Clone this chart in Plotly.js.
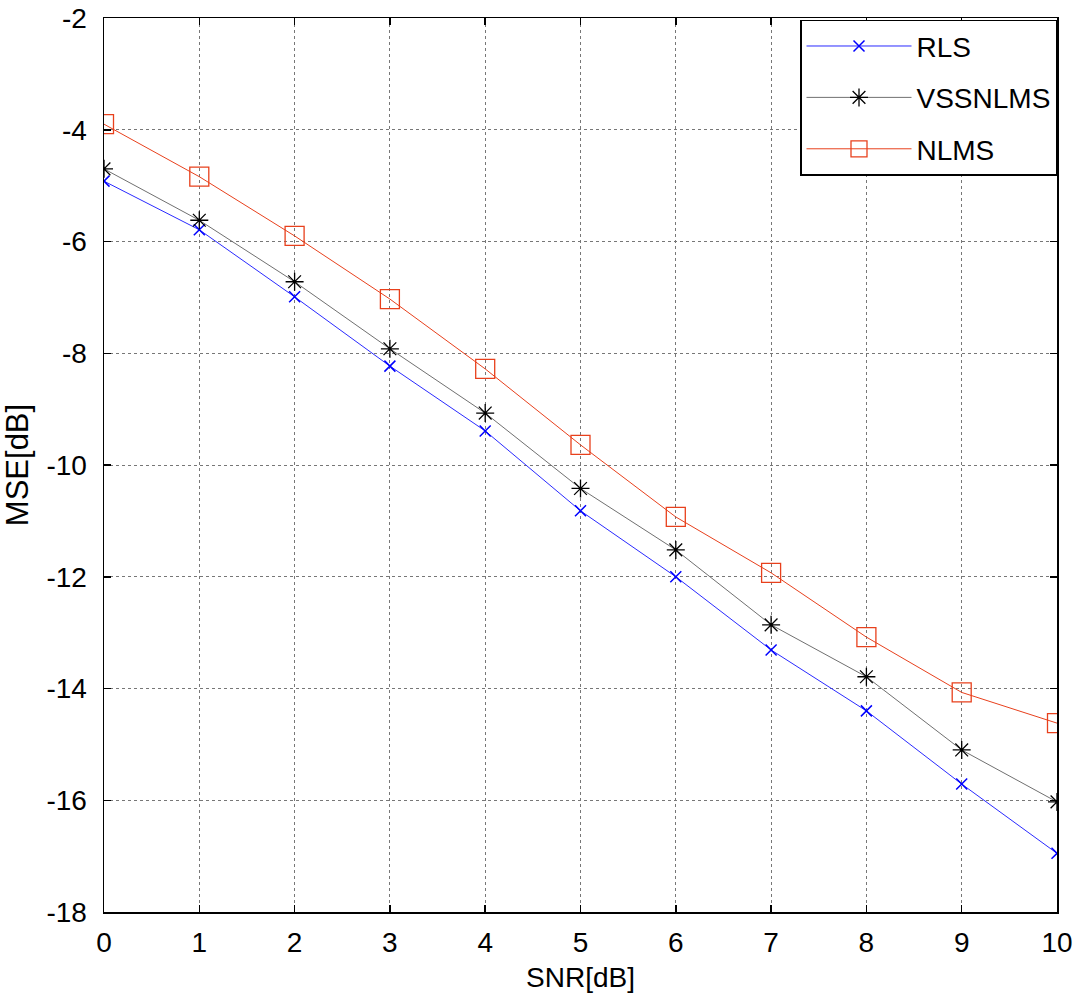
<!DOCTYPE html>
<html><head><meta charset="utf-8">
<script src="https://cdn.plot.ly/plotly-3.0.1.min.js"></script>
<style>html,body{margin:0;padding:0;background:#fff}#c{width:1078px;height:1006px}</style>
</head><body><div id="c"></div>
<script>
const snr = [0,1,2,3,4,5,6,7,8,9,10];
const rls = [-4.92,-5.79,-6.99,-8.23,-9.39,-10.82,-12.0,-13.31,-14.40,-15.71,-16.95];
const vssnlms = [-4.70,-5.62,-6.72,-7.92,-9.07,-10.42,-11.52,-12.86,-13.79,-15.10,-16.03];
const nlms = [-3.90,-4.84,-5.90,-7.03,-8.28,-9.64,-10.93,-11.93,-13.08,-14.07,-14.62];
const names = ['RLS','VSSNLMS','NLMS'];
const xTicks = [0,1,2,3,4,5,6,7,8,9,10];
const xTickText = ['0','1','2','3','4','5','6','7','8','9','10'];
const yTicks = [-18,-16,-14,-12,-10,-8,-6,-4,-2];
const yTickText = ['-18','-16','-14','-12','-10','-8','-6','-4','-2'];

const REG = 'Liberation Sans, Arial, sans-serif';

const traces = [
  {x: snr, y: rls, name: names[0], legendgroup: 'a', mode: 'lines+markers',
   line: {color: '#2a2aff', width: 1},
   marker: {symbol: 'x-thin-open', size: 11, color: '#0000ff', line: {color: '#0000ff', width: 1.5}}},
  {x: snr, y: vssnlms, name: names[1], legendgroup: 'b', mode: 'lines+markers',
   line: {color: '#707070', width: 1},
   marker: {symbol: 'asterisk-open', size: 15, color: '#000', line: {color: '#000', width: 1.3}}},
  {x: snr, y: nlms, name: names[2], legendgroup: 'c', mode: 'lines+markers',
   line: {color: '#e8401c', width: 1},
   marker: {symbol: 'square-open', size: 19, color: '#e8401c', line: {color: '#e8401c', width: 1.3}}}
];

const axisCommon = {
  showline: true, mirror: 'ticks', linecolor: '#000', linewidth: 1.5,
  ticks: 'inside', ticklen: 7, tickcolor: '#000', tickwidth: 1.5,
  showgrid: true, gridcolor: '#777', gridwidth: 1, griddash: 'dot',
  zeroline: false,
  tickfont: {family: REG, size: 28, color: '#000'}
};

const layout = {
  width: 1078, height: 1006,
  margin: {l: 104, r: 21, t: 18, b: 94},
  paper_bgcolor: '#fff', plot_bgcolor: '#fff',
  showlegend: true,
  legend: {x: 1, y: 0.998, xanchor: 'right', yanchor: 'top',
    bordercolor: '#000', borderwidth: 1.5, bgcolor: '#fff',
    font: {family: REG, size: 28, color: '#000'},
    itemwidth: 105, entrywidth: 255, traceorder: 'grouped', tracegroupgap: 12},
  xaxis: Object.assign({}, axisCommon, {range: [0,10], tickvals: xTicks, ticktext: xTickText,
    ticklabelstandoff: 5,
    title: {text: 'SNR[dB]', font: {family: REG, size: 28, color: '#000'}, standoff: 10}}),
  yaxis: Object.assign({}, axisCommon, {range: [-18,-2], tickvals: yTicks, ticktext: yTickText,
    ticklabelstandoff: 10,
    title: {text: 'MSE[dB]', font: {family: REG, size: 31, color: '#000'}, standoff: 10}})
};

Plotly.newPlot('c', traces, layout, {displayModeBar: false, staticPlot: true});
</script></body></html>
